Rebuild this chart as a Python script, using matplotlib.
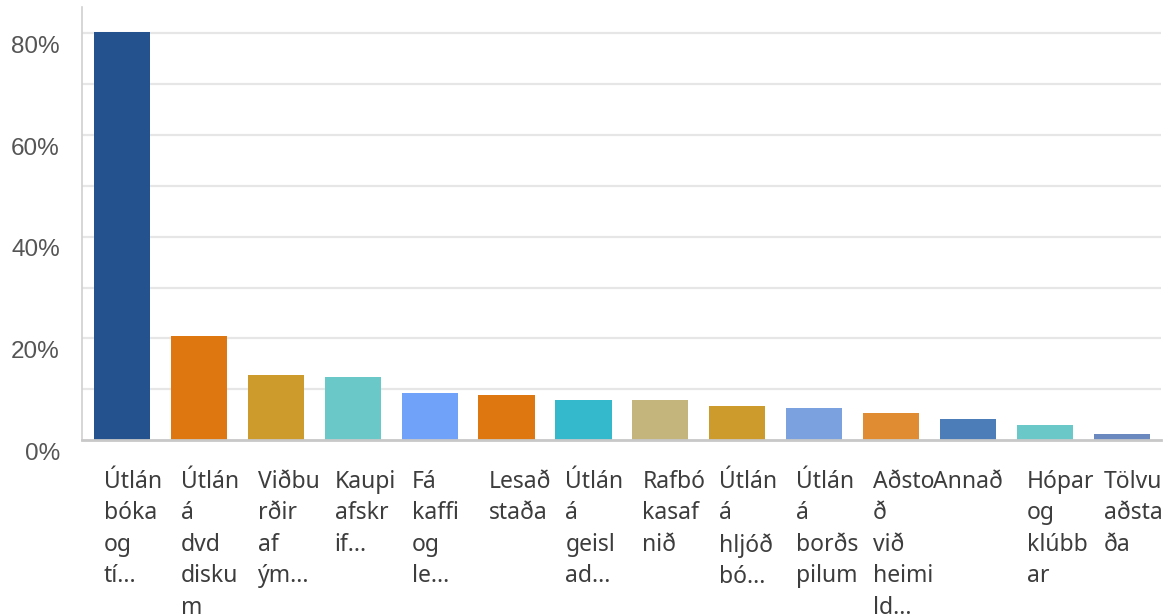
import matplotlib
matplotlib.use("Agg")
import matplotlib.pyplot as plt
from matplotlib.transforms import ScaledTranslation

categories = [
    "Útlán\nbóka\nog\ntí...",
    "Útlán\ná\ndvd\ndisku\nm",
    "Viðbu\nrðir\naf\ným...",
    "Kaupi\nafskr\nif...",
    "Fá\nkaffi\nog\nle...",
    "Lesað\nstaða",
    "Útlán\ná\ngeisl\nad...",
    "Rafbó\nkasaf\nnið",
    "Útlán\ná\nhljóð\nbó...",
    "Útlán\ná\nborðs\npilum",
    "Aðsto\nð\nvið\nheimi\nld...",
    "Annað",
    "Hópar\nog\nklúbb\nar",
    "Tölvu\naðsta\nða",
]
values = [80.2, 20.4, 12.7, 12.3, 9.3, 8.8, 7.9, 7.9, 6.7, 6.2, 5.4, 4.1, 2.9, 1.1]
colors = ["#24528F", "#DE770F", "#CD9A2C", "#6AC8C8", "#6FA2F8", "#DE770F",
          "#33B8CC", "#C3B57B", "#CD9A2C", "#7BA1DE", "#E08C32", "#4C7DB8",
          "#6AC8C8", "#6B89BF"]
yticks = [0, 20, 40, 60, 80]
ytick_labels = ["0%", "20%", "40%", "60%", "80%"]

fig = plt.figure(figsize=(11.7, 6.16), dpi=100)
ax = fig.add_axes([82/1170, 1 - 440/616, (1161 - 82)/1170, (440 - 7)/616])

x = list(range(len(values)))
ax.bar(x, values, width=0.73, color=colors, zorder=3)

ax.set_xlim(-0.52, len(values) - 1 + 0.51)
ax.set_ylim(0, 85.2)

# gridlines every 10%
for g in range(10, 90, 10):
    ax.axhline(g, color="#E6E6E6", linewidth=1.6, zorder=1)

for s in ["top", "right"]:
    ax.spines[s].set_visible(False)
ax.spines["left"].set_color("#D0D0D0")
ax.spines["left"].set_linewidth(1.2)
ax.spines["bottom"].set_color("#C8C8C8")
ax.spines["bottom"].set_linewidth(2)
ax.spines["bottom"].set_zorder(4)

ax.set_yticks(yticks)
ax.set_yticklabels(ytick_labels, fontsize=17.5, color="#555555",
                   fontfamily="Liberation Sans")
ax.tick_params(axis="y", length=0, pad=16)
yoff = ScaledTranslation(0, -11/100, fig.dpi_scale_trans)
for lab in ax.get_yticklabels():
    lab.set_transform(lab.get_transform() + yoff)

ax.set_xticks([])
trans = ax.get_xaxis_transform()
for i, lab in enumerate(categories):
    if "\n" in lab:
        off = ScaledTranslation(-18/100, -30/100, fig.dpi_scale_trans)
        ha = "left"
    else:
        off = ScaledTranslation(0, -30/100, fig.dpi_scale_trans)
        ha = "center"
    ax.text(i, 0, lab, transform=trans + off, ha=ha, va="top",
            fontsize=16.5, color="#3D3D3D", fontfamily="Noto Sans",
            linespacing=1.41)

fig.savefig("out.png", dpi=100, facecolor="white")
